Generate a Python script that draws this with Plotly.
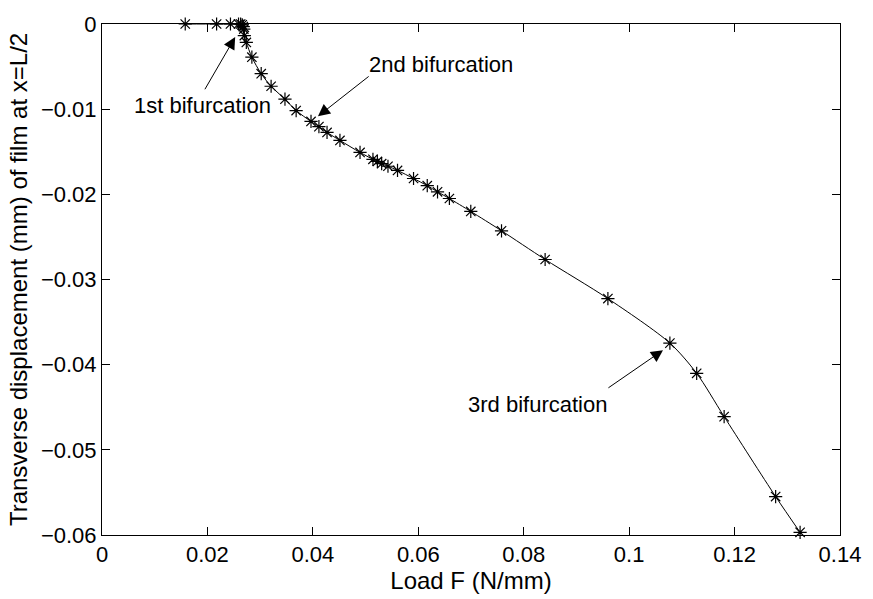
import plotly.graph_objects as go

# Load F (N/mm)
load_f = [0.01579, 0.02174, 0.02437, 0.0259, 0.0263, 0.0266, 0.0268, 0.0269,
          0.0270, 0.02738, 0.02843, 0.0302, 0.03208, 0.03471, 0.03683, 0.03965,
          0.04115, 0.04269, 0.04514, 0.04895, 0.0514, 0.05224, 0.05305, 0.05425,
          0.05606, 0.0591, 0.0617, 0.06365, 0.0659, 0.06996, 0.07579, 0.08406,
          0.09597, 0.10773, 0.11281, 0.11802, 0.12779, 0.13243]
# Transverse displacement (mm) at x=L/2
disp = [0.0, 0.0, 0.0, 0.0, 0.0, -0.0001, -0.0003, -0.0006,
        -0.00136, -0.00216, -0.0039, -0.00583, -0.00731, -0.00883, -0.01017, -0.01144,
        -0.01205, -0.01273, -0.01367, -0.01508, -0.01589, -0.01614, -0.0164, -0.0167,
        -0.01719, -0.01814, -0.01898, -0.0197, -0.02049, -0.02201, -0.02428, -0.02765,
        -0.03224, -0.03747, -0.04102, -0.0461, -0.05549, -0.05969]

x_ticks = [0, 0.02, 0.04, 0.06, 0.08, 0.1, 0.12, 0.14]
x_tick_text = ["0", "0.02", "0.04", "0.06", "0.08", "0.1", "0.12", "0.14"]
y_ticks = [-0.06, -0.05, -0.04, -0.03, -0.02, -0.01, 0]
y_tick_text = ["\u22120.06", "\u22120.05", "\u22120.04", "\u22120.03", "\u22120.02", "\u22120.01", "0"]

labels = ["1st bifurcation", "2nd bifurcation", "3rd bifurcation"]
label_pos = [(0.01907, -0.00955), (0.0644, -0.00472), (0.08269, -0.04466)]
arrow_tip = [(0.02527, -0.00153), (0.04097, -0.01083), (0.10642, -0.0383)]
arrow_tail = [(0.01936, -0.00784), (0.05087, -0.00602), (0.09578, -0.04284)]

FONT = "Liberation Sans, Arial, Helvetica, sans-serif"
FS = 22
FS_LABEL = 24

fig = go.Figure()
fig.add_trace(go.Scatter(
    x=load_f, y=disp, mode="lines+markers",
    line=dict(color="black", width=1, shape="spline", smoothing=0.8),
    marker=dict(symbol="asterisk-open", size=11, color="black",
                line=dict(color="black", width=1.2)),
    cliponaxis=False, showlegend=False))

annotations = []
for txt, (tx, ty) in zip(labels, label_pos):
    annotations.append(dict(x=tx, y=ty, xref="x", yref="y", text=txt,
                            showarrow=False, font=dict(family=FONT, size=FS, color="black")))
for (hx, hy), (sx, sy) in zip(arrow_tip, arrow_tail):
    annotations.append(dict(x=hx, y=hy, xref="x", yref="y", ax=sx, ay=sy,
                            axref="x", ayref="y", text="", showarrow=True,
                            arrowhead=2, arrowsize=2.4, arrowwidth=1, arrowcolor="black"))

fig.update_layout(
    width=873, height=599,
    margin=dict(l=102, r=26, t=13, b=58),
    paper_bgcolor="white", plot_bgcolor="white",
    font=dict(family=FONT, size=FS, color="black"),
    annotations=annotations,
    xaxis=dict(range=[0, 0.14], tickvals=x_ticks, ticktext=x_tick_text,
               ticks="inside", ticklen=8, tickcolor="black", mirror="ticks",
               showline=True, linecolor="black", linewidth=1,
               showgrid=False, zeroline=False,
               title=dict(text="Load F (N/mm)", standoff=3,
                          font=dict(family=FONT, size=FS_LABEL))),
    yaxis=dict(range=[-0.06, 0], tickvals=y_ticks, ticktext=y_tick_text,
               ticks="inside", ticklen=8, tickcolor="black", mirror="ticks",
               showline=True, linecolor="black", linewidth=1,
               showgrid=False, zeroline=False,
               title=dict(text="Transverse displacement (mm) of film at x=L/2", standoff=6,
                          font=dict(family=FONT, size=FS_LABEL))),
)

fig.write_html("out.html")
